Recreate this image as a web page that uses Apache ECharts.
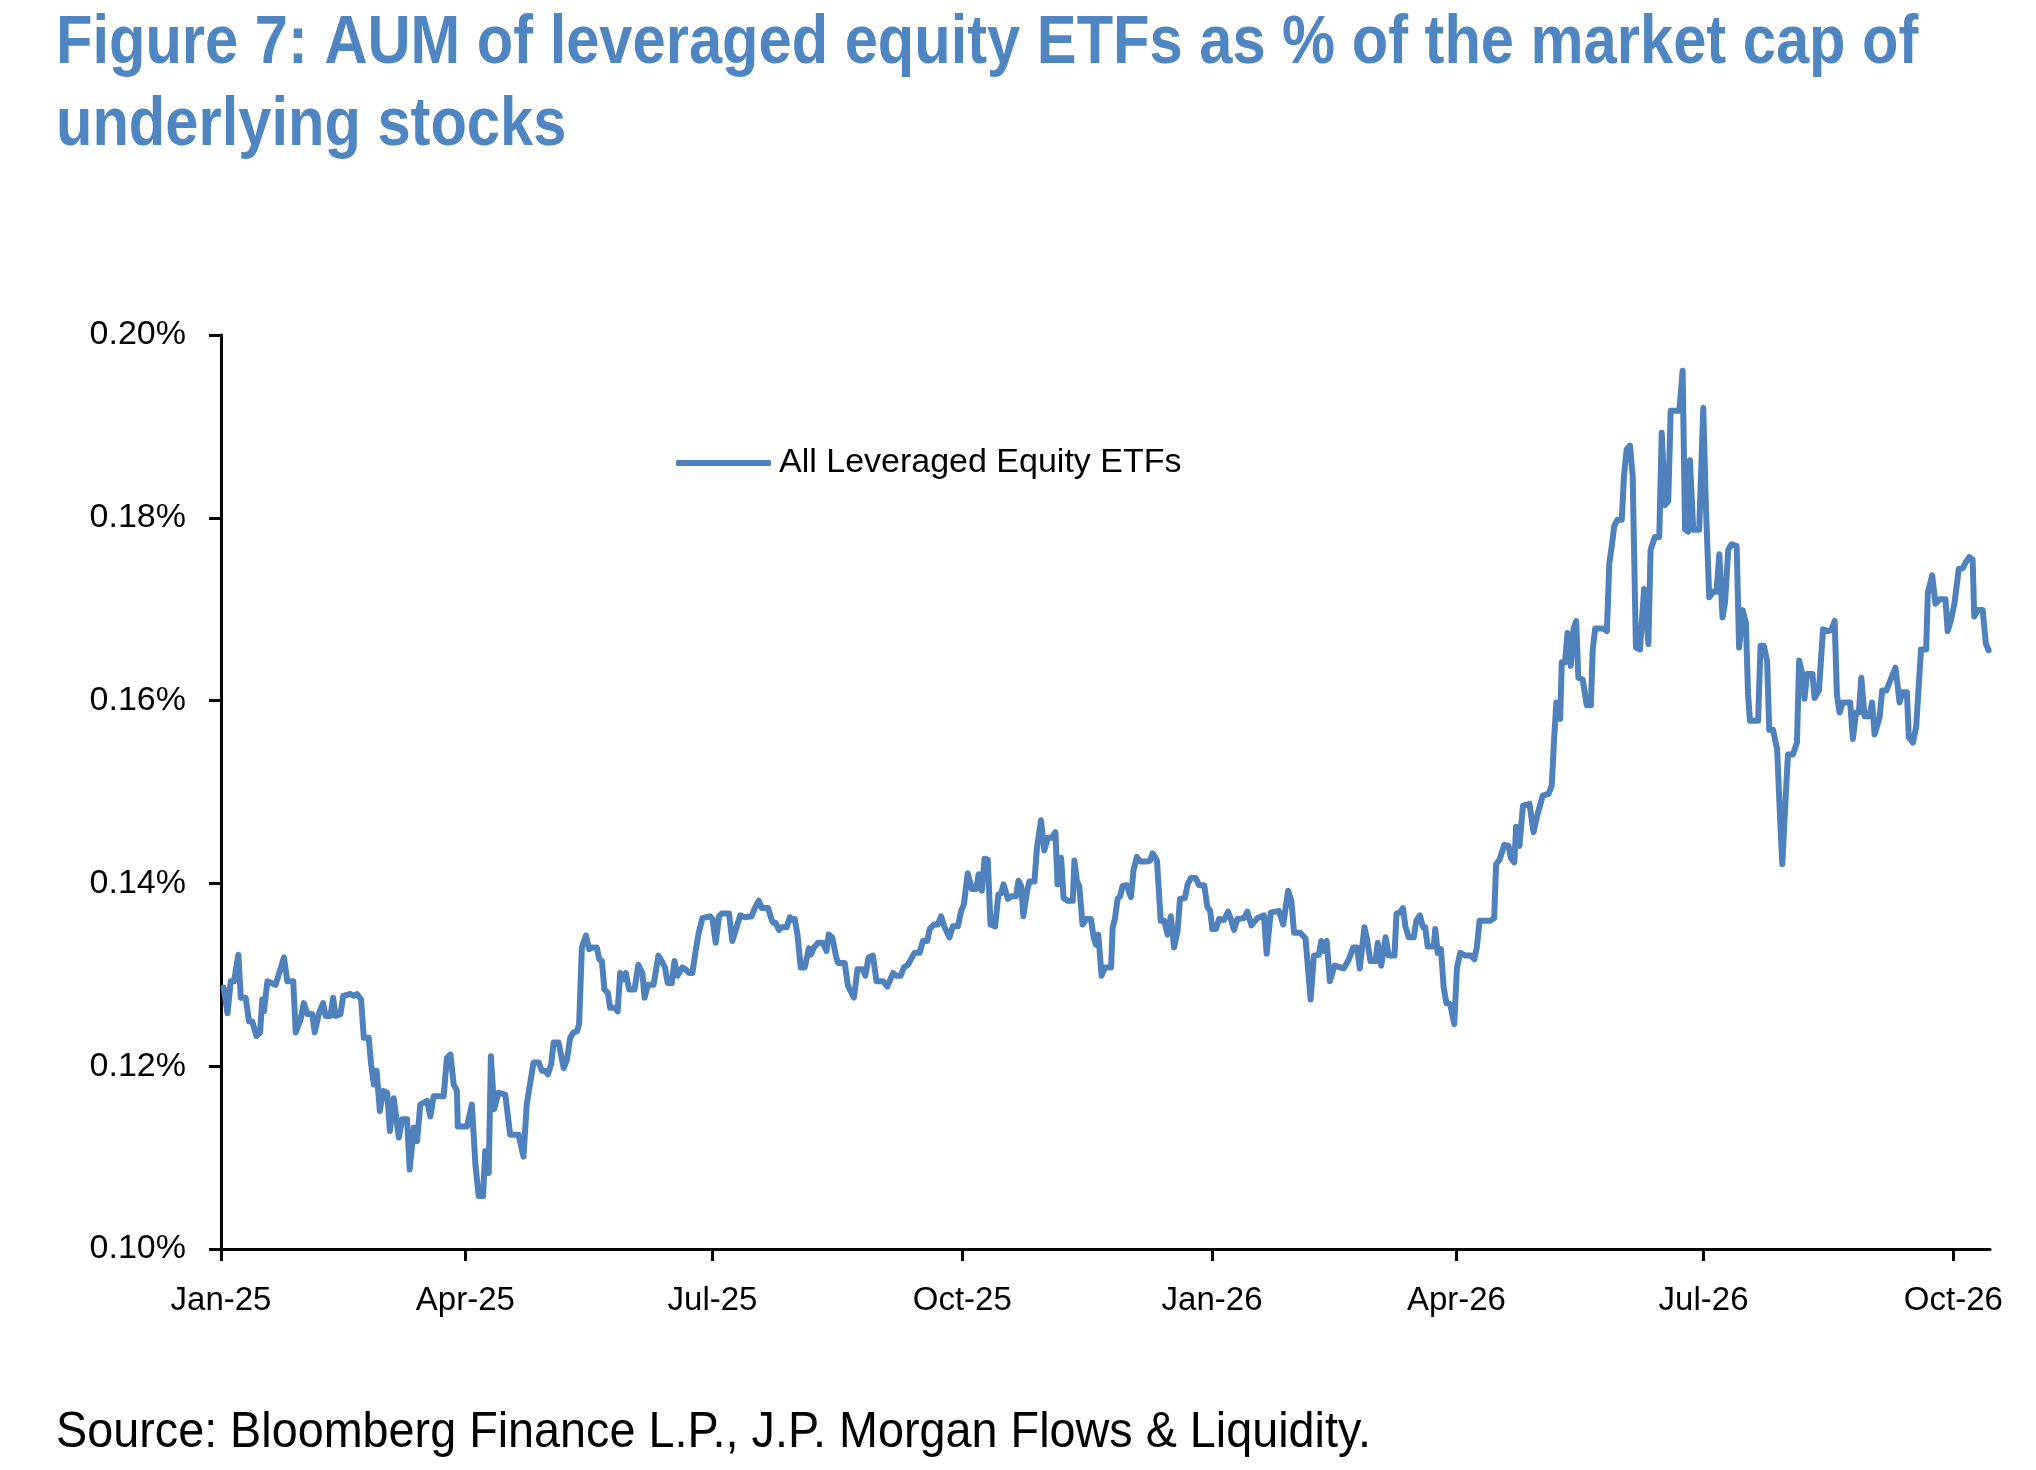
<!DOCTYPE html>
<html>
<head>
<meta charset="utf-8">
<title>AUM of leveraged equity ETFs</title>
<script src="https://cdn.jsdelivr.net/npm/echarts@6/dist/echarts.min.js"></script>
<style>
  html, body { margin: 0; padding: 0; background: #fff; }
  #chart { width: 2036px; height: 1470px; }
</style>
</head>
<body>
<div id="chart"></div>
<script>
// x: calendar days since 1 Jan 2025, y: AUM as % of underlying market cap
const days1 = [1.0, 2.4, 3.6, 4.8, 6.4, 7.3, 9.1, 10.3, 11.5, 13.1,
  14.4, 15.2, 15.8, 17.1, 20.1, 23.2, 24.4, 26.6, 27.5, 29.3,
  30.5, 31.8, 33.6, 34.5, 36.1, 37.6, 38.5, 40.3, 41.3, 42.2,
  44.0, 45.0, 47.7, 48.9, 50.1, 51.6, 52.6, 54.4, 55.3, 56.3,
  57.3, 58.5, 59.7, 61.2, 62.2, 63.6, 65.5, 66.7, 68.5, 69.5,
  71.0, 72.2, 73.4, 75.9, 77.1, 78.3, 82.0, 83.2, 84.5, 85.7,
  86.9, 87.2, 90.6, 92.4, 93.7, 94.9, 96.5, 97.3, 98.6, 99.4,
  100.6, 102.2, 104.7, 106.5, 109.6, 111.4, 112.6]
const aum1 = [.1286, .1258, .1293, .1293, .1322, .1275, .1275, .1249, .1249, .1233,
  .1237, .1273, .1260, .1293, .1289, .1319, .1293, .1293, .1237, .1251,
  .1269, .1257, .1257, .1237, .1258, .1269, .1255, .1255, .1275, .1255,
  .1257, .1277, .1279, .1277, .1279, .1273, .1231, .1231, .1202, .1180,
  .1195, .1151, .1173, .1171, .1129, .1165, .1122, .1142, .1142, .1087,
  .1133, .1118, .1158, .1162, .1145, .1167, .1167, .1209, .1213, .1180,
  .1173, .1134, .1134, .1158, .1092, .1058, .1058, .1107, .1083, .1211,
  .1153, .1171, .1169, .1125, .1125, .1101, .1158]

const days2 = [115.1, 117.0, 118.2, 119.4, 120.4, 121.6, 122.5, 124.3, 126.2, 127.4,
  128.6, 129.8, 131.1, 131.9, 132.9, 134.4, 135.6, 136.8, 138.4, 139.3,
  140.3, 141.2, 142.5, 143.3, 144.9, 146.1, 147.0, 148.2, 149.1, 150.3,
  152.3, 153.7, 155.2, 156.0, 157.2, 159.3, 161.1, 162.3, 163.5, 164.5,
  166.0, 167.0, 168.1, 169.9, 171.1, 172.4, 173.6, 174.6, 175.8, 177.3,
  180.1, 181.0, 182.2, 183.4, 184.4, 187.1, 188.3, 189.9, 191.2, 193.0,
  195.4, 196.6, 198.1, 199.1, 201.5, 202.8, 203.4, 204.2, 205.5, 206.4,
  208.3, 209.5, 210.4, 211.3, 212.3, 213.5, 215.0, 216.5]
const aum2 = [.1204, .1204, .1195, .1195, .1191, .1202, .1226, .1226, .1198, .1207,
  .1231, .1237, .1238, .1246, .1330, .1343, .1328, .1330, .1330, .1317,
  .1315, .1284, .1280, .1264, .1264, .1260, .1302, .1295, .1302, .1284,
  .1284, .1311, .1302, .1275, .1289, .1289, .1321, .1315, .1308, .1291,
  .1291, .1315, .1299, .1308, .1306, .1302, .1302, .1322, .1344, .1362,
  .1364, .1361, .1335, .1364, .1367, .1367, .1337, .1352, .1365, .1363,
  .1364, .1373, .1381, .1373, .1373, .1360, .1357, .1357, .1349, .1352,
  .1352, .1363, .1360, .1361, .1344, .1308, .1308, .1329]

const days3 = [217.2, 218.4, 219.9, 221.7, 223.0, 223.8, 225.1, 226.6, 227.3, 229.7,
  230.9, 233.1, 234.4, 236.4, 237.3, 238.5, 240.1, 241.4, 243.8, 245.4,
  247.5, 248.7, 250.3, 251.5, 253.0, 255.4, 257.3, 258.5, 260.1, 261.0,
  262.6, 264.0, 265.2, 266.5, 268.3, 269.5, 271.4, 272.6, 273.6, 275.0,
  276.5, 278.1, 279.0, 280.2, 281.2, 282.4, 283.4, 285.1, 286.3, 287.3,
  288.2, 289.8, 291.0, 292.8, 293.7, 294.7, 295.5, 296.9, 297.7, 299.6,
  300.5, 302.0, 303.2, 304.5, 306.0, 307.3, 308.1, 309.4, 310.3, 311.8,
  313.7, 314.3, 315.2, 316.1, 317.3, 318.6, 320.4, 321.4, 322.2, 323.1,
  324.3]
const aum3 = [.1322, .1330, .1335, .1335, .1326, .1344, .1341, .1319, .1313, .1313,
  .1288, .1275, .1306, .1306, .1299, .1319, .1321, .1293, .1293, .1287,
  .1302, .1299, .1299, .1308, .1311, .1324, .1324, .1337, .1337, .1350,
  .1355, .1355, .1364, .1352, .1341, .1353, .1353, .1370, .1377, .1411,
  .1394, .1394, .1410, .1392, .1427, .1426, .1355, .1353, .1388, .1389,
  .1399, .1383, .1386, .1386, .1403, .1397, .1364, .1392, .1402, .1402,
  .1439, .1469, .1436, .1450, .1450, .1456, .1399, .1428, .1384, .1381,
  .1381, .1425, .1403, .1397, .1355, .1361, .1361, .1341, .1333, .1344,
  .1299]

const days4 = [325.5, 327.8, 328.4, 329.2, 330.2, 331.2, 332.0, 333.6, 335.1, 336.1,
  337.3, 338.5, 341.2, 342.2, 343.1, 344.7, 346.1, 347.4, 348.6, 349.8,
  351.0, 352.3, 353.2, 355.0, 356.0, 357.2, 359.0, 360.2, 362.1, 363.3,
  364.3, 365.1, 366.4, 367.6, 369.4, 370.9, 371.9, 373.1, 374.3, 376.8,
  378.0, 379.5, 381.7, 384.1, 385.1, 386.6, 389.6, 391.2, 393.0, 394.2,
  395.2, 397.4, 399.4, 401.3, 402.5, 404.3, 405.2, 406.2, 407.2, 408.4,
  410.1, 412.3, 413.5, 415.4, 417.0, 418.4, 419.4, 421.1, 422.1, 423.3,
  425.2, 426.0, 427.3, 428.9, 430.1, 432.2, 432.9, 434.1]
const aum4 = [.1308, .1308, .1352, .1361, .1383, .1386, .1397, .1398, .1385, .1415,
  .1429, .1424, .1424, .1425, .1433, .1425, .1359, .1359, .1344, .1364,
  .1330, .1348, .1383, .1384, .1399, .1406, .1406, .1398, .1398, .1374,
  .1370, .1350, .1350, .1361, .1360, .1369, .1361, .1349, .1361, .1362,
  .1369, .1354, .1362, .1365, .1323, .1368, .1370, .1355, .1392, .1381,
  .1346, .1346, .1340, .1273, .1321, .1322, .1337, .1326, .1337, .1293,
  .1310, .1308, .1307, .1317, .1330, .1330, .1307, .1352, .1339, .1315,
  .1315, .1335, .1310, .1341, .1321, .1321, .1367, .1368]

const days5 = [435.3, 436.2, 437.4, 439.3, 440.2, 441.5, 442.7, 443.5, 444.4, 446.6,
  447.2, 448.1, 449.3, 450.3, 451.3, 452.7, 454.2, 455.2, 456.4, 458.3,
  460.3, 461.6, 462.5, 463.5, 465.0, 467.4, 468.9, 469.6, 470.9, 472.6,
  474.2, 475.0, 476.3, 477.0, 478.2, 479.5, 481.9, 483.4, 484.8, 486.8,
  488.9, 490.1, 491.0, 491.8, 492.5]
const aum5 = [.1373, .1353, .1341, .1341, .1359, .1365, .1352, .1352, .1331, .1331,
  .1350, .1324, .1328, .1286, .1269, .1268, .1246, .1308, .1324, .1321,
  .1321, .1317, .1330, .1359, .1359, .1359, .1362, .1421, .1426, .1442,
  .1441, .1428, .1423, .1462, .1441, .1485, .1487, .1456, .1475, .1496,
  .1498, .1507, .1560, .1598, .1585]

const days6 = [493.2, 493.8, 495.0, 495.9, 497.1, 498.1, 499.1, 499.9, 501.5, 503.0,
  504.5, 505.2, 506.1, 507.7, 509.1, 510.4, 511.3, 512.2, 513.1, 514.3,
  515.9, 516.7, 517.7, 518.9, 519.9, 521.1, 522.6, 523.2, 524.1, 525.7,
  526.5, 528.1, 529.7, 530.6, 531.8, 533.0, 533.9, 537.1, 538.3, 539.2,
  540.4, 541.0, 542.2, 544.4, 545.9, 546.9, 548.1, 549.6, 550.8, 551.8,
  553.0, 553.9, 555.1, 556.3, 558.2, 559.1, 560.4, 561.6, 562.4, 563.1,
  566.1, 567.0, 568.2, 569.4, 570.2, 571.6, 573.1, 574.1, 575.0]
const aum6 = [.1580, .1642, .1642, .1674, .1638, .1678, .1687, .1625, .1623, .1595,
  .1595, .1656, .1679, .1679, .1679, .1676, .1750, .1769, .1791, .1798,
  .1798, .1846, .1875, .1879, .1846, .1658, .1656, .1656, .1722, .1662,
  .1765, .1779, .1779, .1893, .1814, .1818, .1917, .1917, .1961, .1787,
  .1785, .1863, .1787, .1787, .1920, .1810, .1713, .1719, .1719, .1760,
  .1691, .1707, .1765, .1771, .1769, .1658, .1699, .1685, .1607, .1578,
  .1578, .1660, .1660, .1644, .1568, .1568, .1547, .1478, .1421]

const days7 = [576.5, 577.1, 578.9, 580.4, 581.2, 582.4, 583.2, 584.1, 586.1, 586.9,
  588.5, 590.0, 591.8, 593.0, 594.3, 595.1, 596.1, 597.3, 600.0, 601.0,
  602.2, 603.2, 604.1, 605.3, 607.1, 608.1, 609.0, 610.8, 611.8, 613.3,
  614.5, 616.7, 618.2, 619.2, 620.9, 621.6, 623.1, 624.3, 626.1, 628.0,
  628.6, 630.2, 631.4, 632.9, 635.1, 635.9, 637.2, 638.4, 640.0, 641.5,
  642.7, 643.9, 645.1, 645.7, 647.0, 648.8, 650.0, 651.0]
const aum7 = [.1508, .1541, .1541, .1554, .1644, .1629, .1602, .1629, .1629, .1603,
  .1611, .1678, .1676, .1677, .1687, .1607, .1587, .1598, .1598, .1558,
  .1587, .1587, .1625, .1583, .1583, .1598, .1563, .1581, .1611, .1611,
  .1620, .1636, .1598, .1609, .1609, .1560, .1554, .1571, .1656, .1656,
  .1718, .1737, .1706, .1711, .1711, .1676, .1689, .1706, .1744, .1745,
  .1752, .1757, .1754, .1692, .1699, .1699, .1662, .1655]

const tickDates = ["2025-01-01", "2025-04-01", "2025-07-01", "2025-10-01",
  "2026-01-01", "2026-04-01", "2026-07-01", "2026-10-01"]
const tickLabels = ["Jan-25", "Apr-25", "Jul-25", "Oct-25", "Jan-26", "Apr-26", "Jul-26", "Oct-26"]
const seriesName = "All Leveraged Equity ETFs"

const DAY = 86400000
const start = Date.UTC(2025, 0, 1)
const allDays = [].concat(days1, days2, days3, days4, days5, days6, days7)
const allAum = [].concat(aum1, aum2, aum3, aum4, aum5, aum6, aum7)
const lineData = allDays.map((d, i) => [start + d * DAY, allAum[i]])
const tickTimes = tickDates.map(s => Date.parse(s + "T00:00:00Z"))

// nearest tick label for a timestamp
function dateLabel(v) {
  let best = 0
  for (let i = 0; i < tickTimes.length; i++) {
    if (Math.abs(tickTimes[i] - v) < Math.abs(tickTimes[best] - v)) best = i
  }
  return tickLabels[best]
}

const FONT = "'Liberation Sans', Arial, sans-serif"

const myChart = echarts.init(document.getElementById("chart"))
const option = {
  animation: false,
  backgroundColor: "#ffffff",
  legend: {
    left: 671,
    top: 441,
    icon: "roundRect",
    itemWidth: 95,
    itemHeight: 6,
    data: [seriesName],
    textStyle: { fontFamily: FONT, fontSize: 34, color: "#000", padding: [0, 0, 0, 3] }
  },
  grid: { left: 221, right: 46, top: 335, bottom: 221, containLabel: false },
  xAxis: {
    type: "value",
    min: start,
    max: start + 651.5 * DAY,
    splitLine: { show: false },
    axisLine: { show: true, lineStyle: { color: "#000", width: 3 } },
    axisTick: { show: true, length: 12, lineStyle: { color: "#000", width: 3 }, customValues: tickTimes },
    axisLabel: {
      customValues: tickTimes,
      margin: 35,
      color: "#000",
      fontSize: 33,
      fontFamily: FONT,
      formatter: dateLabel
    }
  },
  yAxis: {
    type: "value",
    min: 0.10,
    max: 0.20,
    interval: 0.02,
    splitLine: { show: false },
    axisLine: { show: true, lineStyle: { color: "#000", width: 3 } },
    axisTick: { show: true, length: 12, lineStyle: { color: "#000", width: 3 } },
    axisLabel: {
      margin: 35,
      color: "#000",
      fontSize: 34,
      fontFamily: FONT,
      formatter: v => v.toFixed(2) + "%"
    }
  },
  series: [
    {
      name: seriesName,
      type: "line",
      symbol: "none",
      data: lineData,
      lineStyle: { color: "#4F81BD", width: 6, cap: "round", join: "round" },
      itemStyle: { color: "#4F81BD" }
    }
  ],
  graphic: [
    {
      // condensed bold title
      type: "text",
      x: 56,
      y: 3,
      scaleX: 0.877,
      style: {
        text: "Figure 7: AUM of leveraged equity ETFs as % of the market cap of\nunderlying stocks",
        fontFamily: FONT,
        fontSize: 68,
        fontWeight: "bold",
        lineHeight: 82,
        fill: "#4F86C1"
      }
    },
    {
      type: "text",
      x: 56,
      y: 1408,
      scaleX: 0.935,
      style: {
        text: "Source: Bloomberg Finance L.P., J.P. Morgan Flows & Liquidity.",
        fontFamily: FONT,
        fontSize: 50,
        fill: "#000"
      }
    }
  ]
}
myChart.setOption(option)
</script>
</body>
</html>
